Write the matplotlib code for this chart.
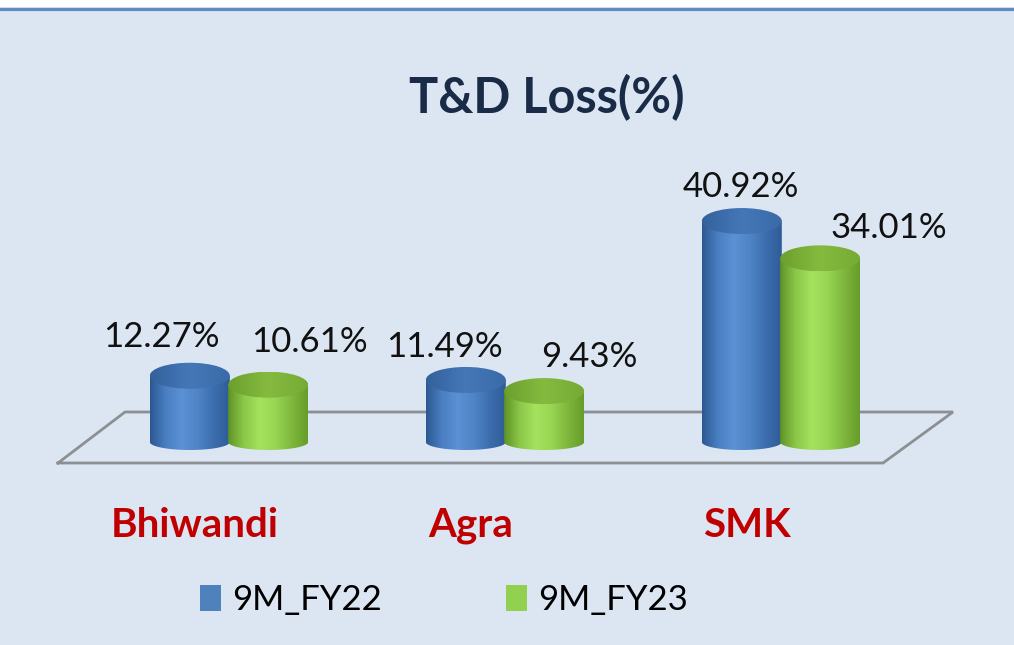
import numpy as np
import matplotlib
matplotlib.use("Agg")
import matplotlib.pyplot as plt
from matplotlib.path import Path
from matplotlib.patches import PathPatch, Ellipse, Patch, Rectangle
from matplotlib.colors import LinearSegmentedColormap
from matplotlib.lines import Line2D

# data
categories = ["Bhiwandi", "Agra", "SMK"]
series_names = ["9M_FY22", "9M_FY23"]
fy22 = [12.27, 11.49, 40.92]
fy23 = [10.61, 9.43, 34.01]
labels22 = ["12.27%", "11.49%", "40.92%"]
labels23 = ["10.61%", "9.43%", "34.01%"]

# layout / style
W, H = 1014, 645
PX_X = 276.0      # pixels per category step
X0_PX = 229.0     # pixel of first category
PX_Y = 5.4        # pixels per percent
Y0_PX = 442.0     # pixel row of value 0
BAR_W = 80 / PX_X
SHIFT = 0.142
TOP_H = 26 / PX_Y
BOT_H = 16 / PX_Y
BG = "#dce6f2"

# label offsets in pixels (dx, dy) from top of cylinder
off22 = [(-28, 16), (-21, 10), (-1, 11)]
off23 = [(41, 20), (45, 11), (69, 7)]

plt.rcParams['font.family'] = ['Lato', 'DejaVu Sans']

fig = plt.figure(figsize=(W / 100, H / 100), dpi=100)
fig.patch.set_facecolor(BG)
ax = fig.add_axes([0, 0, 1, 1])
ax.set_facecolor(BG)
ax.axis("off")

xlim = ((0 - X0_PX) / PX_X, (W - X0_PX) / PX_X)
ylim = ((Y0_PX - H) / PX_Y, Y0_PX / PX_Y)


def to_x(px):
    return (px - X0_PX) / PX_X


def to_y(py):
    return (Y0_PX - py) / PX_Y


# floor plane
floor = [(to_x(58), to_y(463)), (to_x(125), to_y(412)),
         (to_x(953), to_y(412)), (to_x(883), to_y(463)), (to_x(58), to_y(463))]
fx, fy = zip(*floor)
ax.plot(fx, fy, color="#8c8f94", lw=2.0, zorder=1, solid_joinstyle="miter")

blue_body = LinearSegmentedColormap.from_list(
    "bb", ["#2c5891", "#4a7fc2", "#5b91d5", "#4f84c6", "#3c6eae", "#2f5c96"])
blue_top = LinearSegmentedColormap.from_list("bt", ["#33619c", "#4577b8", "#3a6aa8"])
green_body = LinearSegmentedColormap.from_list(
    "gb", ["#5f9325", "#8cc849", "#a5e25e", "#97d552", "#7fb73d", "#669c2a"])
green_top = LinearSegmentedColormap.from_list("gt", ["#6c9f2e", "#84bb3f", "#76ab34"])


def cylinder(xc, val, body_cmap, top_cmap, z):
    x0, x1 = xc - BAR_W / 2, xc + BAR_W / 2
    t = np.linspace(np.pi, 2 * np.pi, 80)
    bx = xc + BAR_W / 2 * np.cos(t)
    by = BOT_H / 2 * np.sin(t)
    verts = list(zip(bx, by)) + [(x1, val), (x0, val), (x0, 0)]
    body = PathPatch(Path(verts), facecolor="none", edgecolor="none", zorder=z)
    ax.add_patch(body)
    grad = np.linspace(0, 1, 256).reshape(1, -1)
    im = ax.imshow(grad, cmap=body_cmap, extent=[x0, x1, -BOT_H / 2, val],
                   aspect="auto", origin="lower", zorder=z, interpolation="bilinear")
    im.set_clip_path(body)
    top = Ellipse((xc, val), BAR_W, TOP_H, facecolor="none", edgecolor="none", zorder=z)
    ax.add_patch(top)
    im2 = ax.imshow(grad, cmap=top_cmap, extent=[x0, x1, val - TOP_H / 2, val + TOP_H / 2],
                    aspect="auto", origin="lower", zorder=z + 0.1, interpolation="bilinear")
    im2.set_clip_path(top)


for i in range(len(categories)):
    cylinder(i - SHIFT, fy22[i], blue_body, blue_top, 3 + i)
    cylinder(i + SHIFT, fy23[i], green_body, green_top, 3.5 + i)
    ax.annotate(labels22[i], (i - SHIFT, fy22[i] + TOP_H / 2), xytext=off22[i],
                textcoords="offset pixels", ha="center", va="baseline",
                fontsize=25, color="#111111", zorder=10)
    ax.annotate(labels23[i], (i + SHIFT, fy23[i] + TOP_H / 2), xytext=off23[i],
                textcoords="offset pixels", ha="center", va="baseline",
                fontsize=25, color="#111111", zorder=10)
    ax.text(i - 0.123, to_y(537), categories[i], ha="center", va="baseline",
            fontsize=29, fontweight="bold", color="#c00000")

ax.set_xlim(*xlim)
ax.set_ylim(*ylim)

# title
fig.text(547 / W, 1 - 113 / H, "T&D Loss(%)", ha="center", va="baseline",
         fontsize=35, fontweight="bold", color="#1a2b47")

# top border
fig.add_artist(Rectangle((0, 1 - 7 / H), 1, 7 / H, transform=fig.transFigure,
                         facecolor="white", edgecolor="none"))
fig.add_artist(Line2D([0, 1], [1 - 8.5 / H, 1 - 8.5 / H], transform=fig.transFigure,
                      color="#5f8ac4", lw=2.3))

handles = [Patch(facecolor="#4f81bd", edgecolor="none"),
           Patch(facecolor="#92d050", edgecolor="none")]
fig.legend(handles, series_names, loc="center", bbox_to_anchor=(444 / W, 1 - 600 / H),
           ncol=2, frameon=False, fontsize=25, handlelength=0.6, handleheight=0.75,
           handletextpad=0.32, columnspacing=3.6)

fig.savefig("out.png", dpi=100, facecolor=BG)
